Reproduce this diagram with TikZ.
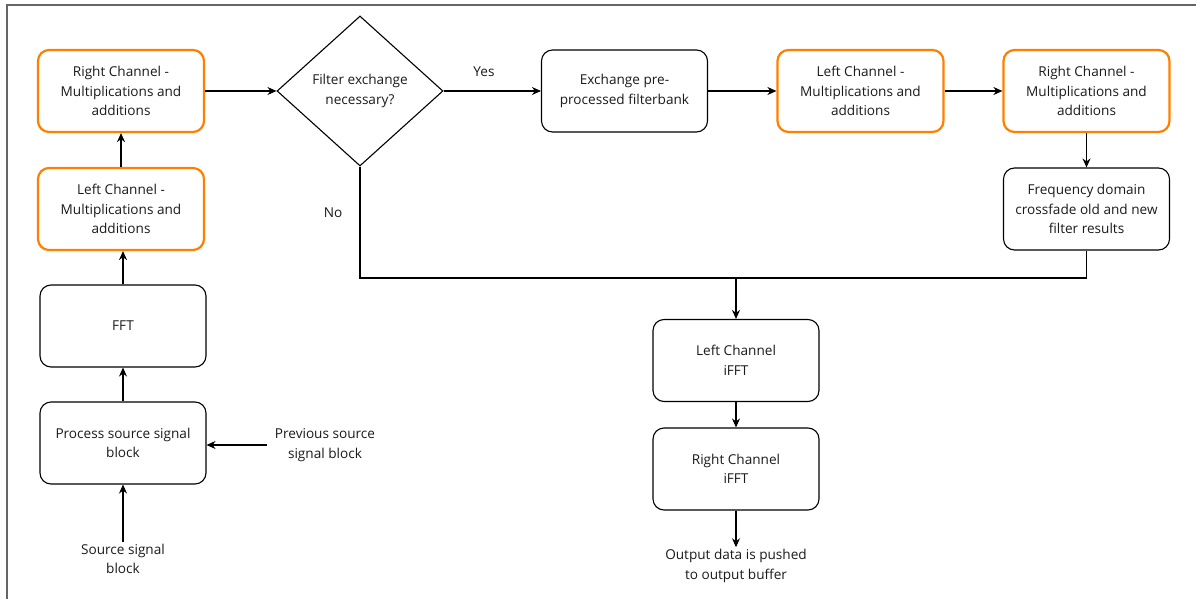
\documentclass[tikz,border=0pt]{standalone}
\usepackage{fontspec}
\setmainfont{Open Sans}
\usetikzlibrary{arrows.meta,shapes.geometric}
\definecolor{boxorange}{HTML}{FF8000}
\definecolor{txt}{HTML}{1A1A1A}
\definecolor{frame}{HTML}{666666}
\tikzset{
  txtfont/.style={font=\fontsize{13.6}{19.5}\selectfont},
  base/.style={rectangle, rounded corners=11pt, minimum width=166pt, minimum height=82pt,
    align=center, text=txt, txtfont, inner sep=2pt},
  plainbox/.style={base, draw=black, line width=1.1pt},
  orangebox/.style={base, draw=boxorange, line width=2.2pt},
  decision/.style={diamond, draw=black, line width=1.1pt, minimum width=166pt, minimum height=150pt,
    inner sep=0pt, align=center, text=txt, txtfont},
  lbl/.style={align=center, text=txt, txtfont, inner sep=2pt},
  flow/.style={draw=black, line width=1.1pt, -{Stealth[length=9pt,width=8pt]}},
  wire/.style={draw=black, line width=1.1pt},
}
\begin{document}
\begin{tikzpicture}[x=1pt,y=-1pt]
  \useasboundingbox (0,0) rectangle (1196,599);
  % outer frame (left and top edges)
  \draw[frame, line width=1.6pt] (7,599) -- (7,5) -- (1196,5);

  % left column
  \node[orangebox] (r1) at (121,91) {Right Channel -\\Multiplications and\\additions};
  \node[orangebox] (l1) at (121,209) {Left Channel -\\Multiplications and\\additions};
  \node[plainbox] (fft) at (123,326) {FFT};
  \node[plainbox] (proc) at (123,443) {Process source signal\\block};
  \node[lbl] (prev) at (325,445) {Previous source\\signal block};
  \node[lbl] (src) at (123,559) {Source signal\\block};

  % decision and top row
  \node[decision] (dec) at (360,91) {Filter exchange\\necessary?};
  \node[plainbox] (exch) at (624.5,91) {Exchange pre-\\processed filterbank};
  \node[orangebox] (l2) at (860.5,91) {Left Channel -\\Multiplications and\\additions};
  \node[orangebox] (r2) at (1086.5,91) {Right Channel -\\Multiplications and\\additions};
  \node[plainbox] (xfade) at (1086.5,209) {Frequency domain\\crossfade old and new\\filter results};

  % output column
  \node[plainbox] (lifft) at (736,360.5) {Left Channel\\iFFT};
  \node[plainbox] (rifft) at (736,469) {Right Channel\\iFFT};
  \node[lbl] (out) at (736,566) {Output data is pushed\\to output buffer};

  \node[lbl] (yes) at (484,72) {Yes};
  \node[lbl] (no) at (333,213) {No};
  \coordinate (merge) at (736,278);

  % connectors
  \draw[flow] (src.north) -- (proc.south);
  \draw[flow] ([xshift=-6pt]prev.west) -- (proc.east |- prev.west);
  \draw[flow] (proc.north) -- (proc.north |- fft.south);
  \draw[flow] (fft.north) -- (fft.north |- l1.south);
  \draw[flow] (l1.north) -- (r1.south);
  \draw[flow] (r1.east) -- (dec.west);
  \draw[flow] (dec.east) -- (exch.west);
  \draw[flow] (exch.east) -- (l2.west);
  \draw[flow] (l2.east) -- (r2.west);
  \draw[flow] (r2.south) -- (xfade.north);
  \draw[wire] (dec.south) |- (merge) -| (xfade.south);
  \draw[flow] (merge) -- (lifft.north);
  \draw[flow] (lifft.south) -- (rifft.north);
  \draw[flow] (rifft.south) -- (out.north);
\end{tikzpicture}
\end{document}
